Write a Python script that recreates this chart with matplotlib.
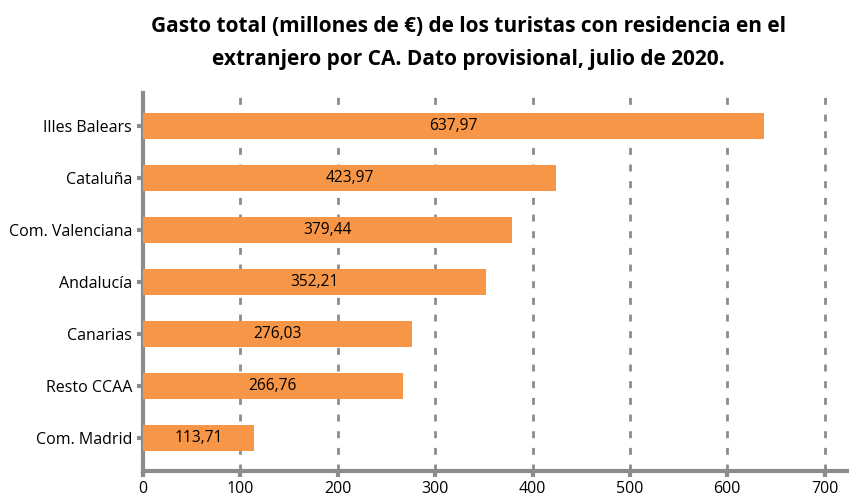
import matplotlib.pyplot as plt
import numpy as np

plt.rcParams['font.family'] = ['Open Sans', 'DejaVu Sans']

regiones = ['Illes Balears', 'Cataluña', 'Com. Valenciana', 'Andalucía',
            'Canarias', 'Resto CCAA', 'Com. Madrid']
gasto = [637.97, 423.97, 379.44, 352.21, 276.03, 266.76, 113.71]
xticks = [0, 100, 200, 300, 400, 500, 600, 700]

gris = '#8c8c8c'
naranja = '#f79646'

fig = plt.figure(figsize=(8.49, 4.96), dpi=100)
ax = fig.add_axes([143/849, 25/496, 706/849, 378/496])

y = np.arange(len(regiones))
ax.barh(y, gasto, height=0.5, color=naranja, zorder=3)
for yi, v in zip(y, gasto):
    ax.text(v/2, yi, f'{v:.2f}'.replace('.', ','), ha='center', va='center',
            fontsize=11.2, color='black', zorder=4)

ax.set_yticks(y)
ax.set_yticklabels(regiones, fontsize=11.5)
ax.set_xticks(xticks)
ax.set_xticklabels([str(t) for t in xticks], fontsize=11.5)
ax.set_ylim(len(regiones) - 0.37, -0.63)
ax.set_xlim(0, 725)

ax.grid(axis='x', color=gris, linestyle=(0, (2.5, 3.5)), linewidth=2, zorder=1)
for s in ['top', 'right']:
    ax.spines[s].set_visible(False)
for s in ['left', 'bottom']:
    ax.spines[s].set_color(gris)
    ax.spines[s].set_linewidth(3)
ax.tick_params(axis='both', color=gris, width=3, length=4, pad=4)
ax.tick_params(axis='x', pad=3)

fig.suptitle('Gasto total (millones de €) de los turistas con residencia en el\n'
             'extranjero por CA. Dato provisional, julio de 2020.',
             x=468.5/849, y=0.967, fontsize=15.0, fontweight='bold', linespacing=1.75)

fig.savefig('out.png', dpi=100)
